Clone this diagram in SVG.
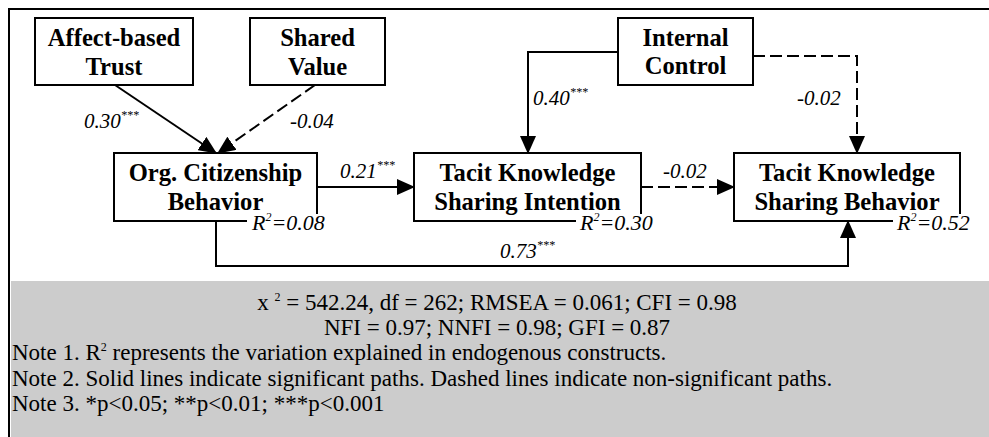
<svg xmlns="http://www.w3.org/2000/svg" width="989" height="437" viewBox="0 0 989 437" font-family="Liberation Serif, Times New Roman, serif">
  <defs>
    <marker id="arrow" markerUnits="userSpaceOnUse" markerWidth="18" markerHeight="16" refX="17" refY="8" orient="auto">
      <path d="M0,0 L18,8 L0,16 Z" fill="#000"/>
    </marker>
    <style>
      .box { fill: #fff; stroke: #000; stroke-width: 2; }
      .name { font-weight: bold; font-size: 24.6px; text-anchor: middle; }
      .coef { font-style: italic; font-size: 21px; }
      .r2 { font-style: italic; font-size: 22px; }
      .sup { font-size: 12px; }
      .note { font-size: 23px; }
      .solid { fill: none; stroke: #000; stroke-width: 2; marker-end: url(#arrow); }
      .dash { fill: none; stroke: #000; stroke-width: 2; stroke-dasharray: 12 5; marker-end: url(#arrow); }
      .mask { fill: #fff; }
    </style>
  </defs>

  <!-- frame and statistics panel -->
  <rect x="0" y="0" width="989" height="437" fill="#fff"/>
  <rect x="11" y="281" width="978" height="156" fill="#cccccc"/>
  <path d="M9,437 L9,9 L989,9" fill="none" stroke="#000" stroke-width="2"/>

  <!-- paths between constructs -->
  <g id="connectors">
    <line class="solid" x1="115" y1="85" x2="216" y2="153"/>
    <line class="dash" x1="315" y1="85" x2="218" y2="153"/>
    <line class="solid" x1="317" y1="187" x2="414" y2="187"/>
    <line class="dash" x1="641" y1="187" x2="734" y2="187"/>
    <polyline class="solid" points="618,52 528,52 528,153"/>
    <polyline class="dash" points="753,56 857,56 857,153"/>
    <polyline class="solid" points="216,221 216,266 848,266 848,221"/>
  </g>

  <g id="node-affect-trust">
    <rect class="box" x="35" y="18" width="158" height="67"/>
    <text class="name" x="114" y="46">Affect-based</text>
    <text class="name" x="114" y="75">Trust</text>
  </g>
  <g id="node-shared-value">
    <rect class="box" x="250" y="18" width="135" height="67"/>
    <text class="name" x="317.5" y="46">Shared</text>
    <text class="name" x="317.5" y="75">Value</text>
  </g>
  <g id="node-internal-control">
    <rect class="box" x="618" y="18" width="135" height="67"/>
    <text class="name" x="685.5" y="46">Internal</text>
    <text class="name" x="685.5" y="74">Control</text>
  </g>
  <g id="node-ocb">
    <rect class="box" x="114" y="153" width="203" height="68"/>
    <text class="name" x="215.5" y="181">Org. Citizenship</text>
    <text class="name" x="215.5" y="210">Behavior</text>
    <rect class="mask" x="247" y="214" width="82" height="21"/>
    <text class="r2" x="252" y="230">R<tspan class="sup" dy="-9">2</tspan><tspan dy="9">=0.08</tspan></text>
  </g>
  <g id="node-tksi">
    <rect class="box" x="414" y="153" width="227" height="68"/>
    <text class="name" x="527.5" y="181">Tacit Knowledge</text>
    <text class="name" x="527.5" y="210">Sharing Intention</text>
    <rect class="mask" x="576" y="214" width="82" height="21"/>
    <text class="r2" x="580" y="230">R<tspan class="sup" dy="-9">2</tspan><tspan dy="9">=0.30</tspan></text>
  </g>
  <g id="node-tksb">
    <rect class="box" x="734" y="153" width="226" height="68"/>
    <text class="name" x="847" y="181">Tacit Knowledge</text>
    <text class="name" x="847" y="210">Sharing Behavior</text>
    <rect class="mask" x="893" y="214" width="82" height="21"/>
    <text class="r2" x="897" y="230">R<tspan class="sup" dy="-9">2</tspan><tspan dy="9">=0.52</tspan></text>
  </g>

  <!-- path coefficients -->
  <g id="coefficients">
    <text class="coef" x="84" y="128">0.30<tspan class="sup" dy="-9">***</tspan></text>
    <text class="coef" x="290" y="128">-0.04</text>
    <text class="coef" x="533" y="105">0.40<tspan class="sup" dy="-9">***</tspan></text>
    <text class="coef" x="797" y="105">-0.02</text>
    <text class="coef" x="340" y="178">0.21<tspan class="sup" dy="-9">***</tspan></text>
    <text class="coef" x="663" y="178">-0.02</text>
    <text class="coef" x="500" y="258">0.73<tspan class="sup" dy="-9">***</tspan></text>
  </g>

  <!-- fit statistics and notes -->
  <g id="notes">
    <text class="note" x="497" y="310" text-anchor="middle">x <tspan class="sup" dy="-9">2</tspan><tspan dy="9"> = 542.24, df = 262; RMSEA = 0.061; CFI = 0.98</tspan></text>
    <text class="note" x="497" y="335" text-anchor="middle">NFI = 0.97; NNFI = 0.98; GFI = 0.87</text>
    <text class="note" x="12" y="360">Note 1. R<tspan class="sup" dy="-9">2</tspan><tspan dy="9"> represents the variation explained in endogenous constructs.</tspan></text>
    <text class="note" x="12" y="386">Note 2. Solid lines indicate significant paths. Dashed lines indicate non-significant paths.</text>
    <text class="note" x="12" y="411">Note 3. *p&lt;0.05; **p&lt;0.01; ***p&lt;0.001</text>
  </g>
</svg>
